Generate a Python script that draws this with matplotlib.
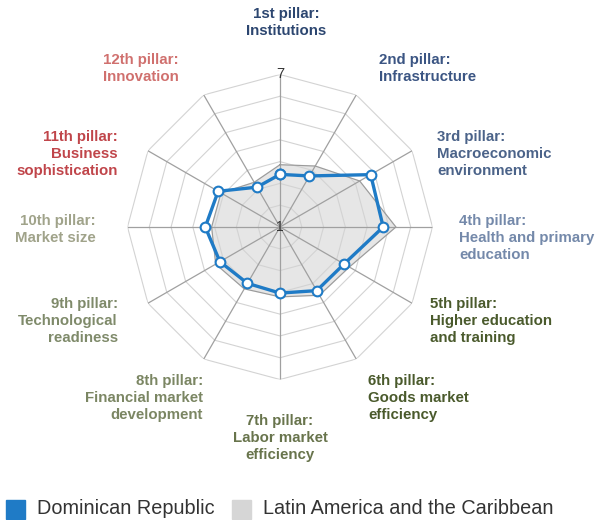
import numpy as np
import matplotlib
matplotlib.use('Agg')
import matplotlib.pyplot as plt
from matplotlib.patches import Rectangle

plt.rcParams['font.family'] = ['Liberation Sans', 'DejaVu Sans']

# pillar labels and their colours
pillars = ['1st pillar:\nInstitutions', '2nd pillar:\nInfrastructure',
           '3rd pillar:\nMacroeconomic\nenvironment',
           '4th pillar:\nHealth and primary\neducation',
           '5th pillar:\nHigher education\nand training',
           '6th pillar:\nGoods market\nefficiency',
           '7th pillar:\nLabor market\nefficiency',
           '8th pillar:\nFinancial market\ndevelopment',
           '9th pillar:\nTechnological\nreadiness',
           '10th pillar:\nMarket size',
           '11th pillar:\nBusiness\nsophistication',
           '12th pillar:\nInnovation']
pillar_colors = ['#2c4670', '#3b5583', '#4b6389', '#7489aa', '#4a5a2c', '#4a5a2c',
                 '#68744c', '#7b8663', '#7f8a6a', '#a0a38a', '#c0454a', '#d0706e']

# scores (1-7)
dom_rep = [3.07, 3.32, 5.12, 5.06, 3.91, 3.89, 3.60, 3.56, 3.73, 3.94, 3.81, 2.81]
lac = [3.45, 3.77, 4.62, 5.56, 4.15, 4.10, 3.75, 3.81, 3.92, 3.69, 3.68, 3.03]
series_names = ['Dominican Republic', 'Latin America and the Caribbean']
series_colors = ['#1f7bc6', '#d6d6d6']

W, H = 607, 520
cx, cy, R = 280, 227, 152.5

fig = plt.figure(figsize=(W / 100, H / 100), dpi=100)
ax = fig.add_axes([(cx - R) / W, (H - cy - R) / H, 2 * R / W, 2 * R / H], polar=True)
ax.set_theta_offset(np.pi / 2)
ax.set_theta_direction(-1)
ax.set_ylim(1, 7)
ax.grid(False)
ax.spines['polar'].set_visible(False)
ax.set_xticks([])
ax.set_yticks([])
ax.patch.set_alpha(0)

n = len(pillars)
ang = np.linspace(0, 2 * np.pi, n, endpoint=False)
ang_c = np.append(ang, ang[0])

# polygon grid
for lev in np.linspace(1, 7, 8)[1:]:
    ax.plot(ang_c, [lev] * (n + 1), color='#d3d3d3', lw=0.8, zorder=2)
for a in ang:
    ax.plot([a, a], [1, 7], color='#a0a0a0', lw=0.9, zorder=2)

# LAC area
lac_c = np.append(lac, lac[0])
ax.fill(ang_c, lac_c, color='#dedede', alpha=0.75, zorder=1)
ax.plot(ang_c, lac_c, color='#9a9a9a', lw=0.8, zorder=3)

# Dominican Republic line
dr_c = np.append(dom_rep, dom_rep[0])
ax.plot(ang_c, dr_c, color=series_colors[0], lw=2.4, zorder=4,
        marker='o', markersize=7, markerfacecolor='white',
        markeredgecolor=series_colors[0], markeredgewidth=1.5)

ax.text(0, 7, '7', ha='center', va='center', fontsize=10.5, color='#333333')
ax.text(0, 1, '1', ha='center', va='center', fontsize=10, color='#333333', zorder=5)

# label layout: (x px, first-line centre y px, alignment)
lab_pos = [(286, 14, 'center'), (379, 60, 'left'), (437, 137, 'left'),
           (459, 221, 'left'), (430, 304, 'left'), (368, 381, 'left'),
           (280, 421, 'center'), (203, 381, 'right'), (118, 304, 'right'),
           (96, 221, 'right'), (118, 137, 'right'), (179, 60, 'right')]
pitch = 16.8
for txt, col, (x, y, ha) in zip(pillars, pillar_colors, lab_pos):
    nl = txt.count('\n')
    yc = y + nl * pitch / 2
    fig.text(x / W, 1 - yc / H, txt, ha=ha, va='center', ma=ha,
             fontsize=10.8, fontweight='bold', color=col, linespacing=1.28)

# legend
leg_x = [6, 232]
for x0, name, col in zip(leg_x, series_names, series_colors):
    fig.patches.append(Rectangle((x0 / W, 1 - 519 / H), 19 / W, 19 / H,
                                 transform=fig.transFigure, color=col))
    fig.text((x0 + 31) / W, 1 - 509 / H, name, ha='left', va='center',
             fontsize=14.3, color='#333333')

fig.savefig('out.png', dpi=100)
